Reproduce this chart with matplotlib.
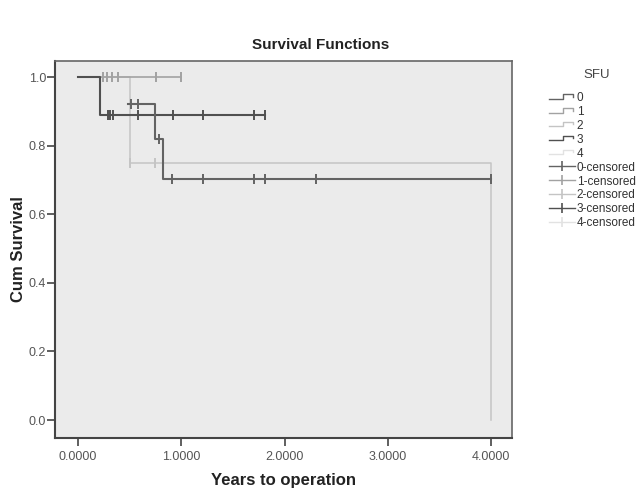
import numpy as np
import matplotlib
matplotlib.use("Agg")
import matplotlib.pyplot as plt
from matplotlib.lines import Line2D
from matplotlib.legend_handler import HandlerBase

plt.rcParams['font.family'] = ['Liberation Sans', 'DejaVu Sans']

groups = ['0', '1', '2', '3', '4']

# step functions: time of each step and survival from that time on
step_times = {
    '0': [0.48, 0.75, 0.82, 4.00],
    '1': [0.00, 1.00],
    '2': [0.00, 0.50, 4.00],
    '3': [0.00, 0.21, 1.81],
    '4': [],
}
step_surv = {
    '0': [0.923, 0.821, 0.703, 0.703],
    '1': [1.0, 1.0],
    '2': [1.0, 0.75, 0.0],
    '3': [1.0, 0.889, 0.889],
    '4': [],
}
# censored cases
cens_times = {
    '0': [0.51, 0.58, 0.78, 0.91, 1.21, 1.70, 1.81, 2.30, 4.00],
    '1': [0.24, 0.28, 0.33, 0.39, 0.76, 1.00],
    '2': [0.50, 0.75],
    '3': [0.29, 0.31, 0.34, 0.58, 0.92, 1.21, 1.70, 1.81],
    '4': [],
}

colors = {'0': '#636363', '1': '#a2a2a2', '2': '#c4c4c4', '3': '#505050', '4': '#e2e2e2'}
widths = {'0': 1.5, '1': 1.2, '2': 1.1, '3': 1.5, '4': 1.0}


def level_at(g, t):
    tt = np.array(step_times[g])
    i = np.searchsorted(tt, t, side='right') - 1
    return np.array(step_surv[g])[i]


class StepHandler(HandlerBase):
    def create_artists(self, legend, orig_handle, xdescent, ydescent,
                       width, height, fontsize, trans):
        fx = np.array([0, 0.55, 0.55, 0.92, 0.92])
        fy = np.array([0.3, 0.3, 0.85, 0.85, 0.55])
        ln = Line2D(-xdescent + width * fx, -ydescent + height * fy,
                    color=orig_handle.get_color(), lw=1.0, transform=trans)
        return [ln]


fig = plt.figure(figsize=(6.41, 4.95), dpi=100)
ax = fig.add_axes([55 / 641, 1 - 438 / 495, 457 / 641, 377 / 495])
ax.set_facecolor('#ebebeb')

line_handles = {}
for g in ['4', '2', '1', '3', '0']:
    ln, = ax.plot(step_times[g], step_surv[g], drawstyle='steps-post',
                  color=colors[g], lw=widths[g])
    line_handles[g] = ln
    ct = cens_times[g]
    if ct:
        ax.plot(ct, [level_at(g, t) for t in ct], ls='none', marker='|',
                markersize=7, mew=1.4, color=colors[g])

ax.set_xlim(-0.223, 4.203)
ax.set_ylim(-0.0525, 1.0476)
ax.set_xticks([0, 1, 2, 3, 4])
ax.set_xticklabels(['%.4f' % v for v in [0, 1, 2, 3, 4]])
ax.set_yticks([0, 0.2, 0.4, 0.6, 0.8, 1.0])
ax.set_yticklabels(['%.1f' % v for v in [0, 0.2, 0.4, 0.6, 0.8, 1.0]])
ax.tick_params(direction='out', length=5.5, width=1.2, color='#444444',
               labelsize=9, labelcolor='#555555')
ax.tick_params(axis='x', pad=4)
ax.tick_params(axis='y', pad=1)
for side in ['top', 'right']:
    ax.spines[side].set_color('#666666')
    ax.spines[side].set_linewidth(1.2)
for side in ['left', 'bottom']:
    ax.spines[side].set_color('#444444')
    ax.spines[side].set_linewidth(1.5)

ax.set_xlabel('Years to operation', fontsize=12, fontweight='bold', color='#222222')
ax.set_ylabel('Cum Survival', fontsize=12, fontweight='bold', color='#222222')
ax.xaxis.set_label_coords(0.5, -(473 - 438) / 377)
ax.yaxis.set_label_coords((26 - 55) / 457, 0.5)
fig.text(0.5, 1 - 45 / 495, 'Survival Functions', ha='center', va='center',
         fontsize=11, fontweight='bold', color='#222222')

handles = [line_handles[g] for g in groups]
labels = list(groups)
for g in groups:
    handles.append(Line2D([], [], color=colors[g], lw=1.0, marker='|',
                          markersize=7, mew=1.2))
    labels.append(g + '-censored')

handler_map = {line_handles[g]: StepHandler() for g in groups}
fig.text(597 / 641, 1 - 75 / 495, 'SFU', ha='center', va='center',
         fontsize=9.5, color='#444444')
leg = fig.legend(handles, labels, handler_map=handler_map,
                 loc='upper left', bbox_to_anchor=(548 / 641, 1 - 91 / 495),
                 frameon=False, fontsize=8.5,
                 numpoints=1, handlelength=2.2, handletextpad=0.15,
                 labelspacing=0.16, borderpad=0.1, borderaxespad=0)
for txt in leg.get_texts():
    txt.set_color('#333333')

fig.savefig('out.png', dpi=100)
